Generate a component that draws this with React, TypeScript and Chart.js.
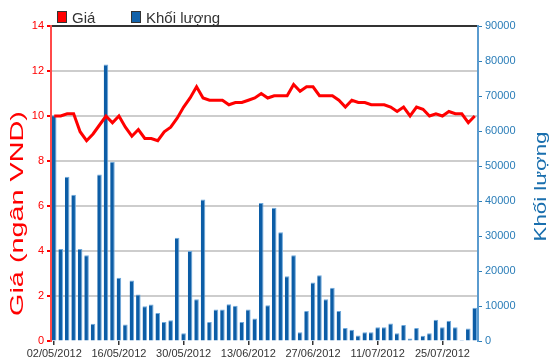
import React, { useEffect, useRef } from "react";
import { Chart, registerables } from "chart.js";

Chart.register(...registerables);

const dates = [
  "02/05/2012", "03/05/2012", "04/05/2012", "07/05/2012", "08/05/2012", "09/05/2012", "10/05/2012", "11/05/2012",
  "14/05/2012", "15/05/2012", "16/05/2012", "17/05/2012", "18/05/2012", "21/05/2012", "22/05/2012", "23/05/2012",
  "24/05/2012", "25/05/2012", "28/05/2012", "29/05/2012", "30/05/2012", "31/05/2012",
  "01/06/2012", "04/06/2012", "05/06/2012", "06/06/2012", "07/06/2012", "08/06/2012", "11/06/2012", "12/06/2012",
  "13/06/2012", "14/06/2012", "15/06/2012", "18/06/2012", "19/06/2012", "20/06/2012", "21/06/2012", "22/06/2012",
  "25/06/2012", "26/06/2012", "27/06/2012", "28/06/2012", "29/06/2012",
  "02/07/2012", "03/07/2012", "04/07/2012", "05/07/2012", "06/07/2012", "09/07/2012", "10/07/2012", "11/07/2012",
  "12/07/2012", "13/07/2012", "16/07/2012", "17/07/2012", "18/07/2012", "19/07/2012", "20/07/2012", "23/07/2012",
  "24/07/2012", "25/07/2012", "26/07/2012", "27/07/2012", "30/07/2012", "31/07/2012", "01/08/2012",
];

const prices = [
  10.0, 10.0, 10.1, 10.1, 9.3, 8.9, 9.2, 9.6, 10.0, 9.7,
  10.0, 9.5, 9.1, 9.4, 9.0, 9.0, 8.9, 9.3, 9.5, 9.9,
  10.4, 10.8, 11.3, 10.8, 10.7, 10.7, 10.7, 10.5, 10.6, 10.6,
  10.7, 10.8, 11.0, 10.8, 10.9, 10.9, 10.9, 11.4, 11.1, 11.3,
  11.3, 10.9, 10.9, 10.9, 10.7, 10.4, 10.7, 10.6, 10.6, 10.5,
  10.5, 10.5, 10.4, 10.2, 10.4, 10.0, 10.4, 10.3, 10.0, 10.1,
  10.0, 10.2, 10.1, 10.1, 9.7, 10.0,
];

const volumes = [
  64500, 26300, 46900, 41800, 26300, 24500, 4900, 47600, 79000, 51200,
  18100, 4700, 17300, 13300, 9900, 10400, 8000, 5400, 5900, 29500,
  2200, 25700, 11900, 40400, 5400, 9000, 9000, 10500, 10100, 5400,
  9000, 6400, 39400, 10200, 38100, 31100, 18500, 24500, 2500, 8600,
  16700, 18800, 11900, 15200, 8600, 3700, 3200, 1600, 2500, 2500,
  3900, 3900, 5000, 2200, 4600, 700, 3700, 1500, 2200, 6100,
  3900, 5800, 3900, 300, 3600, 9500,
];

const legendLabels = ["Giá", "Khối lượng"];
const leftTitle = "Giá (ngân VND)";
const rightTitle = "Khối lượng";
const priceMin = 0;
const priceMax = 14;
const priceStep = 2;
const volumeMin = 0;
const volumeMax = 90000;
const volumeStep = 10000;
const labelEvery = 10;

const FONT = "'Liberation Sans', Arial, sans-serif";
const RED = "#ff0000";
const BAR_BLUE = "#0c5da6";
const AXIS_BLUE = "#2a7db8";

const decorPlugin = {
  id: "decor",
  afterDraw(chart: any) {
    const ctx = chart.ctx as CanvasRenderingContext2D;
    ctx.save();
    // legend
    const items = [
      { x: 57, color: RED, text: legendLabels[0] },
      { x: 131, color: "#1262aa", text: legendLabels[1] },
    ];
    ctx.font = `15px ${FONT}`;
    ctx.textBaseline = "alphabetic";
    ctx.textAlign = "left";
    for (const it of items) {
      ctx.fillStyle = it.color;
      ctx.fillRect(it.x, 11, 10, 12);
      ctx.strokeStyle = "#333";
      ctx.lineWidth = 1;
      ctx.strokeRect(it.x + 0.5, 11.5, 9, 11);
      ctx.fillStyle = "#333";
      ctx.fillText(it.text, it.x + 15, 23);
    }
    // left axis title (stretched along its length)
    ctx.save();
    ctx.translate(23, 213.5);
    ctx.rotate(-Math.PI / 2);
    ctx.scale(1.6, 1);
    ctx.font = `18px ${FONT}`;
    ctx.textAlign = "center";
    ctx.fillStyle = RED;
    ctx.fillText(leftTitle, 0, 0);
    ctx.restore();
    // right axis title
    ctx.save();
    ctx.translate(546, 186.5);
    ctx.rotate(-Math.PI / 2);
    ctx.scale(1.39, 1);
    ctx.font = `16px ${FONT}`;
    ctx.textAlign = "center";
    ctx.fillStyle = "#1a6fae";
    ctx.fillText(rightTitle, 0, 0);
    ctx.restore();
    ctx.restore();
  },
};

export default function App() {
  const canvasRef = useRef<HTMLCanvasElement | null>(null);

  useEffect(() => {
    document.body.style.margin = "0";
    const canvas = canvasRef.current;
    if (!canvas) return;
    const chart = new Chart(canvas, {
      type: "bar",
      data: {
        labels: dates,
        datasets: [
          {
            type: "line",
            label: legendLabels[0],
            data: prices,
            yAxisID: "y",
            borderColor: RED,
            backgroundColor: RED,
            borderWidth: 3,
            pointRadius: 0,
            tension: 0,
            order: 1,
          } as any,
          {
            type: "bar",
            label: legendLabels[1],
            data: volumes,
            yAxisID: "y1",
            backgroundColor: BAR_BLUE,
            borderColor: "#6ea9dc",
            borderWidth: { top: 1, right: 1, left: 0, bottom: 0 },
            borderSkipped: false,
            barPercentage: 0.7,
            categoryPercentage: 1,
            order: 2,
          } as any,
        ],
      },
      options: {
        responsive: false,
        animation: false,
        devicePixelRatio: 1,
        layout: { padding: { top: 26, left: 0, right: 0, bottom: 0 } },
        plugins: {
          legend: { display: false },
          tooltip: { enabled: false },
        },
        scales: {
          x: {
            type: "category",
            offset: true,
            border: { display: false },
            grid: {
              display: true,
              drawOnChartArea: false,
              drawTicks: true,
              tickLength: 4,
              offset: false,
              lineWidth: 1.5,
              color: (c: any) => (c.index % labelEvery === 0 ? "#333" : "rgba(0,0,0,0)"),
            },
            ticks: {
              autoSkip: false,
              maxRotation: 0,
              minRotation: 0,
              padding: 2,
              color: "#333",
              font: { family: FONT, size: 11 },
              callback: (_v: any, i: number) => (i % labelEvery === 0 ? dates[i] : ""),
            },
            afterFit: (s: any) => {
              s.height = 23;
            },
          },
          y: {
            position: "left",
            min: priceMin,
            max: priceMax,
            border: { display: true, color: "#ff4a4a", width: 2 },
            grid: {
              drawTicks: true,
              tickLength: 4,
              tickColor: RED,
              color: (c: any) =>
                c.tick.value === priceMax ? "#333" : c.tick.value === priceMin ? "rgba(0,0,0,0)" : "#cdcdcd",
              lineWidth: 2,
            },
            ticks: {
              stepSize: priceStep,
              color: RED,
              padding: 3,
              font: { family: FONT, size: 11 },
              callback: (v: any) => String(v),
            },
            afterFit: (s: any) => {
              s.width = 51;
            },
          },
          y1: {
            position: "right",
            min: volumeMin,
            max: volumeMax,
            border: { display: true, color: "#5a9bcf", width: 2 },
            grid: {
              drawOnChartArea: false,
              drawTicks: true,
              tickLength: 4,
              tickColor: AXIS_BLUE,
            },
            ticks: {
              stepSize: volumeStep,
              color: AXIS_BLUE,
              padding: 3,
              font: { family: FONT, size: 11 },
              callback: (v: any) => String(v),
            },
            afterFit: (s: any) => {
              s.width = 72;
            },
          },
        },
      },
      plugins: [decorPlugin],
    } as any);
    return () => chart.destroy();
  }, []);

  return <canvas ref={canvasRef} width={550} height={364} style={{ display: "block" }} />;
}
